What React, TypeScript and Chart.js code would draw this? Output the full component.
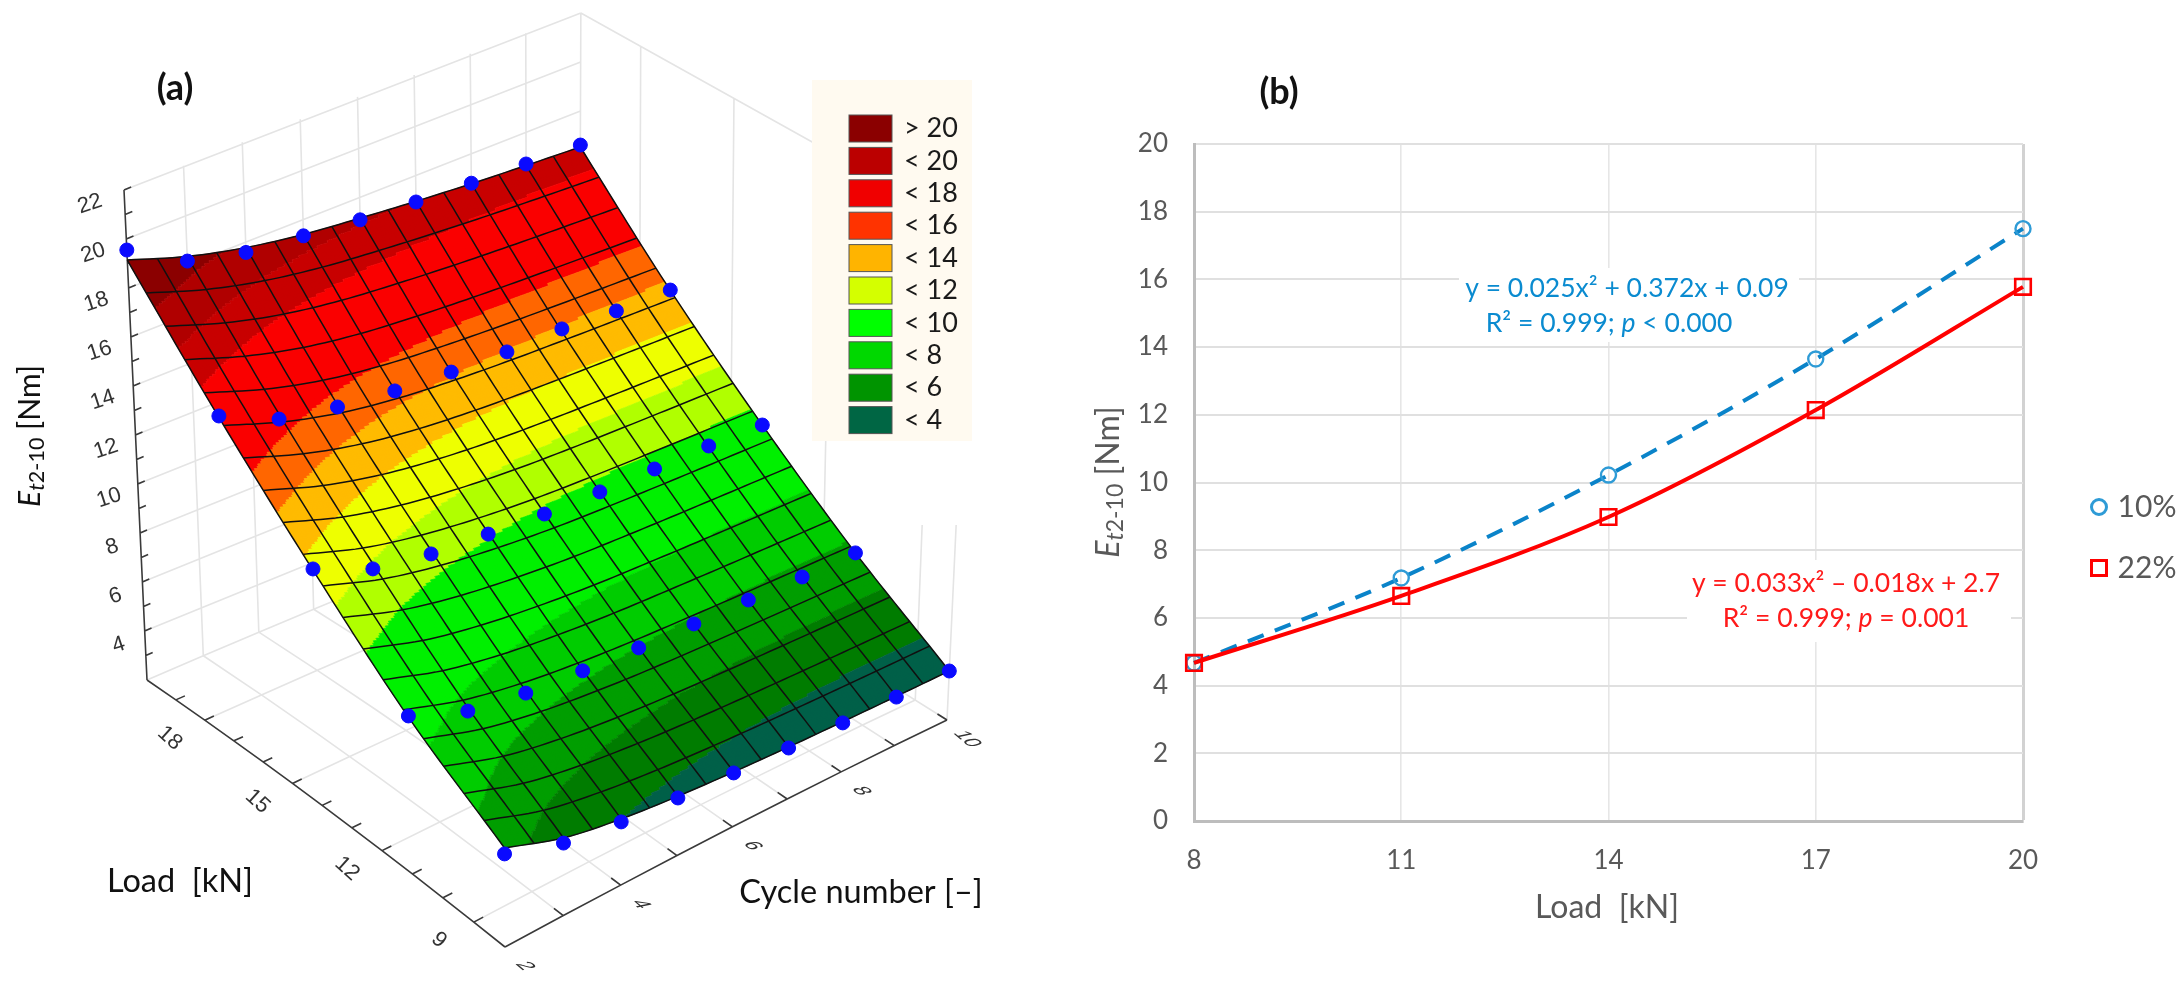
import React, { useEffect, useRef } from "react";
import { Chart, registerables } from "chart.js";

Chart.register(...registerables);

const cycles = [2, 3, 4, 5, 6, 7, 8, 9, 10];
const loads = [20, 17, 14, 11, 8];

const measuredLoad20 = [19.55, 18.11, 17.5, 17.24, 16.98, 16.82, 16.72, 16.66, 16.61];
const measuredLoad17 = [15.26, 14.08, 13.55, 13.21, 13.01, 12.89, 12.91, 12.75, 12.73];
const measuredLoad14 = [11.65, 10.53, 10.05, 9.8, 9.59, 9.49, 9.45, 9.44, 9.37];
const measuredLoad11 = [8.45, 7.45, 7.02, 6.8, 6.64, 6.55, 6.49, 6.42, 6.42];
const measuredLoad8 = [5.8, 4.96, 4.58, 4.35, 4.2, 4.08, 4.0, 3.98, 4.0];

const fittedLoad20 = [19.14, 18.3, 17.7, 17.3, 17.05, 16.85, 16.7, 16.6, 16.53];
const fittedLoad17 = [15.2, 14.3, 13.65, 13.25, 13.02, 12.88, 12.8, 12.75, 12.72];
const fittedLoad14 = [11.6, 10.75, 10.2, 9.85, 9.62, 9.5, 9.43, 9.39, 9.37];
const fittedLoad11 = [8.4, 7.6, 7.12, 6.83, 6.65, 6.55, 6.48, 6.44, 6.42];
const fittedLoad8 = [6.04, 5.17, 4.7, 4.42, 4.24, 4.12, 4.05, 4.01, 4.0];

const bandEdges = [17.9, 16.9, 15.94, 13.88, 12.92, 11.91, 10.79, 9.74, 7.83, 6.66, 5.66, 4.68];
const bandColors = ["#8b0000", "#b00000", "#c80000", "#fa0000", "#ff6600", "#ffbb00", "#eeff00", "#b0ff00", "#00f000", "#00cc00", "#009e00", "#007c00", "#006048"];

const legendLabels = ["> 20", "< 20", "< 18", "< 16", "< 14", "< 12", "< 10", "< 8", "< 6", "< 4"];
const legendColors = ["#8b0000", "#bb0000", "#f00000", "#ff3300", "#ffb400", "#d4ff00", "#00ff00", "#00d800", "#009400", "#006644"];

const zTicks = [22, 20, 18, 16, 14, 12, 10, 8, 6, 4];
const loadTicks = [18, 15, 12, 9];
const cycleTicks = [2, 4, 6, 8, 10];

const loadB = [8, 11, 14, 17, 20];
const series10 = [4.67, 7.18, 10.22, 13.65, 17.5];
const series22 = [4.67, 6.65, 8.98, 12.14, 15.78];

const FONT = "Lato, 'Open Sans', sans-serif";
const GREY = "#595959";

// 3D view: floor corners and vertical scale of the Statistica-like plot
const c00 = [147, 680], c10 = [505, 947], c11 = [947, 720], c01 = [579, 503];
const dx1 = c10[0] - c11[0], dx2 = c01[0] - c11[0], sx = c00[0] - c10[0] + c11[0] - c01[0];
const dy1 = c10[1] - c11[1], dy2 = c01[1] - c11[1], sy = c00[1] - c10[1] + c11[1] - c01[1];
const det = dx1 * dy2 - dx2 * dy1;
const hg = (sx * dy2 - dx2 * sy) / det;
const hh = (dx1 * sy - sx * dy1) / det;
const ha = c10[0] - c00[0] + hg * c10[0];
const hb = c01[0] - c00[0] + hh * c01[0];
const hd = c10[1] - c00[1] + hg * c10[1];
const he = c01[1] - c00[1] + hh * c01[1];

function projectUV(u: number, v: number, z: number) {
  const w = hg * u + hh * v + 1;
  const X0 = (ha * u + hb * v + c00[0]) / w + 28 * u * (1 - u) * (1 - (z - 2) / 24) - 26 * v * (1 - v);
  const Y0 = (hd * u + he * v + c00[1]) / w;
  const tilt = -1.15 + (2.3 * (X0 - 147)) / 800;
  return { x: X0 + tilt * (z - 2), y: Y0 - 24.5 * (z - 2) };
}
const toU = (load: number) => (20 - load) / 12;
const toV = (cycle: number) => (cycle - 2) / 8;
const project = (load: number, cycle: number, z: number) => projectUV(toU(load), toV(cycle), z);

function cr(a: number[], t: number) {
  const n = a.length - 1;
  const i = Math.min(Math.max(Math.floor(t), 0), n - 1);
  const f = t - i;
  const p1 = a[i], p2 = a[i + 1];
  const p0 = i > 0 ? a[i - 1] : 2 * p1 - p2;
  const p3 = i + 2 <= n ? a[i + 2] : 2 * p2 - p1;
  return 0.5 * (2 * p1 + (p2 - p0) * f + (2 * p0 - 5 * p1 + 4 * p2 - p3) * f * f + (3 * p1 - p0 - 3 * p2 + p3) * f * f * f);
}
const fittedRows = [fittedLoad20, fittedLoad17, fittedLoad14, fittedLoad11, fittedLoad8];
function surfaceZ(u: number, v: number) {
  const col = fittedRows.map((r) => cr(r, v * (cycles.length - 1)));
  return cr(col, u * (loads.length - 1));
}
const surfacePt = (u: number, v: number) => projectUV(u, v, surfaceZ(u, v));
const GAP = { x: NaN, y: NaN };

function buildWalls() {
  const d: any[] = [];
  const seg = (a: any, b: any) => d.push(a, b, GAP);
  for (let z = 4; z <= 22; z += 2) seg(project(20, 2, z), project(20, 10, z));
  for (let c = 3; c <= 10; c++) seg(project(20, c, 2), project(20, c, 22));
  for (const l of [18, 15, 12, 9, 8]) seg(project(l, 10, 2), project(l, 10, 22));
  seg(project(20, 10, 22), project(8, 10, 22));
  for (const l of [20, 18, 15, 12, 9]) {
    const line: any[] = [];
    for (let c = 2; c <= 10; c++) line.push(project(l, c, 2));
    d.push(...line, GAP);
  }
  for (let c = 3; c <= 10; c++) {
    const line: any[] = [];
    for (let l = 20; l >= 8; l -= 2) line.push(project(l, c, 2));
    d.push(...line, GAP);
  }
  return d;
}
function buildAxes() {
  const d: any[] = [];
  const seg = (a: any, b: any) => d.push(a, b, GAP);
  seg(project(20, 2, 2), project(20, 2, 22));
  for (let l = 20; l > 8; l -= 1) seg(project(l, 2, 2), project(l - 1, 2, 2));
  for (let c = 2; c < 10; c += 1) seg(project(8, c, 2), project(8, c + 1, 2));
  for (let z = 3; z <= 22; z++) seg(project(20, 2, z), project(20, 2.12, z));
  for (let l = 19; l >= 9; l--) seg(project(l, 2, 2), project(l, 2.16, 2));
  for (let c = 3; c <= 10; c++) seg(project(8, c, 2), project(8.3, c, 2));
  return d;
}
function buildMesh() {
  const d: any[] = [];
  const R = 19, C = 16;
  for (let i = 0; i <= R; i++) {
    for (let k = 0; k <= 64; k++) d.push(surfacePt(i / R, k / 64));
    d.push(GAP);
  }
  for (let j = 0; j <= C; j++) {
    for (let k = 0; k <= 76; k++) d.push(surfacePt(k / 76, j / C));
    d.push(GAP);
  }
  return d;
}
function buildDots() {
  const rows = [measuredLoad20, measuredLoad17, measuredLoad14, measuredLoad11, measuredLoad8];
  const d: any[] = [];
  rows.forEach((r, i) => r.forEach((e, j) => d.push(project(loads[i], cycles[j], e))));
  return d;
}
function bandIndex(z: number) {
  for (let i = 0; i < bandEdges.length; i++) if (z >= bandEdges[i]) return i;
  return bandEdges.length;
}

type Seg = { t: string; i?: boolean; b?: boolean; sub?: boolean };
function drawRich(ctx: CanvasRenderingContext2D, segs: Seg[], size: number, color: string, x: number, y: number, rot = 0) {
  const fontOf = (s: Seg) => `${s.i ? "italic " : ""}${s.b ? "bold " : ""}${s.sub ? size * 0.72 : size}px ${FONT}`;
  let w = 0;
  ctx.save();
  for (const s of segs) { ctx.font = fontOf(s); w += ctx.measureText(s.t).width; }
  ctx.translate(x, y);
  ctx.rotate(rot);
  ctx.fillStyle = color;
  ctx.textBaseline = "middle";
  ctx.textAlign = "left";
  let cx = -w / 2;
  for (const s of segs) {
    ctx.font = fontOf(s);
    ctx.fillText(s.t, cx, s.sub ? size * 0.22 : 0);
    cx += ctx.measureText(s.t).width;
  }
  ctx.restore();
}
function drawRot(ctx: CanvasRenderingContext2D, t: string, x: number, y: number, deg: number, font: string, color = "#222") {
  ctx.save();
  ctx.translate(x, y);
  ctx.rotate((deg * Math.PI) / 180);
  ctx.font = font;
  ctx.fillStyle = color;
  ctx.textAlign = "center";
  ctx.textBaseline = "middle";
  ctx.fillText(t, 0, 0);
  ctx.restore();
}
function drawSheared(ctx: CanvasRenderingContext2D, t: string, x: number, y: number, font: string, color: string) {
  ctx.save();
  ctx.translate(x, y);
  // glyph baseline runs down-right along the floor, glyph tops point to the right
  ctx.transform(0.72, 0.6, -0.95, 0.2, 0, 0);
  ctx.font = font;
  ctx.fillStyle = color;
  ctx.textAlign = "center";
  ctx.textBaseline = "middle";
  ctx.fillText(t, 0, 0);
  ctx.restore();
}

const surfacePlugin = {
  id: "surfacePlugin",
  beforeDatasetDraw(chart: any, args: any) {
    if (args.index !== 2) return;
    const { ctx, scales } = chart;
    const px = (p: any) => [scales.x.getPixelForValue(p.x), scales.y.getPixelForValue(p.y)];
    ctx.save();
    ctx.fillStyle = "#fff";
    ctx.fillRect(scales.x.getPixelForValue(905), scales.y.getPixelForValue(441), 60, 84);
    const NU = 285, NV = 240;
    const pts: number[][][] = [];
    for (let i = 0; i <= NU; i++) {
      const row: number[][] = [];
      for (let j = 0; j <= NV; j++) row.push(px(surfacePt(i / NU, j / NV)));
      pts.push(row);
    }
    const paths = bandColors.map(() => new Path2D());
    for (let i = 0; i < NU; i++) {
      for (let j = 0; j < NV; j++) {
        const z = surfaceZ((i + 0.5) / NU, (j + 0.5) / NV);
        const p = paths[bandIndex(z)];
        p.moveTo(pts[i][j][0], pts[i][j][1]);
        p.lineTo(pts[i + 1][j][0], pts[i + 1][j][1]);
        p.lineTo(pts[i + 1][j + 1][0], pts[i + 1][j + 1][1]);
        p.lineTo(pts[i][j + 1][0], pts[i][j + 1][1]);
        p.closePath();
      }
    }
    paths.forEach((p, k) => {
      ctx.fillStyle = bandColors[k];
      ctx.strokeStyle = bandColors[k];
      ctx.lineWidth = 0.6;
      ctx.fill(p);
      ctx.stroke(p);
    });
    ctx.restore();
  },
  afterDatasetsDraw(chart: any) {
    const { ctx } = chart;
    ctx.save();
    // legend
    ctx.fillStyle = "#fffaf0";
    ctx.fillRect(812, 80, 160, 361);
    legendLabels.forEach((t, i) => {
      const cy = 128.5 + i * 32.4;
      ctx.fillStyle = legendColors[i];
      ctx.fillRect(849, cy - 13.5, 43, 27);
      ctx.strokeStyle = "#555";
      ctx.lineWidth = 1;
      ctx.strokeRect(849, cy - 13.5, 43, 27);
      ctx.fillStyle = "#1a1a1a";
      ctx.font = `27px ${FONT}`;
      ctx.textAlign = "left";
      ctx.textBaseline = "middle";
      ctx.fillText(t, 904, cy);
    });
    // axis numbers
    const numFont = "22px 'Liberation Sans', Arial, sans-serif";
    zTicks.forEach((z) => {
      const p = project(20, 2, z);
      drawRot(ctx, String(z), p.x - 34 + (22 - z) * 0.44, p.y + 14, -18, numFont, "#333");
    });
    loadTicks.forEach((l) => {
      const p = project(l, 2, 2);
      drawRot(ctx, String(l), p.x - 35, p.y + 18, 42, numFont, "#333");
    });
    cycleTicks.forEach((c) => {
      const p = project(8, c, 2);
      drawSheared(ctx, String(c), p.x + 20, p.y + 19, numFont, "#333");
    });
    drawRich(ctx, [{ t: "(a)", b: true }], 36, "#111", 175, 88);
    drawRich(ctx, [{ t: "Load  [kN]" }], 32.5, "#111", 180, 882);
    drawRich(ctx, [{ t: "Cycle number [–]" }], 32.5, "#111", 861, 893);
    drawRich(ctx, [{ t: "E", i: true }, { t: "t", i: true, sub: true }, { t: "2-10", sub: true }, { t: " [Nm]" }], 30, "#111", 30, 436, -Math.PI / 2);
    ctx.restore();
  },
};

const notesPlugin = {
  id: "notesPlugin",
  beforeDatasetsDraw(chart: any) {
    const { ctx } = chart;
    ctx.save();
    ctx.fillStyle = "#fff";
    ctx.fillRect(1459 - OX, 268, 340, 74);
    ctx.fillRect(1687 - OX, 560, 324, 82);
    ctx.restore();
  },
  afterDatasetsDraw(chart: any) {
    const { ctx } = chart;
    ctx.save();
    const blue = "#0a8bd0", red = "#ff1a1a";
    drawRich(ctx, [{ t: "y = 0.025x² + 0.372x + 0.09" }], 26.5, blue, 1627 - OX, 288);
    drawRich(ctx, [{ t: "R² = 0.999; " }, { t: "p", i: true }, { t: " < 0.000" }], 26.5, blue, 1609 - OX, 323);
    drawRich(ctx, [{ t: "y = 0.033x² – 0.018x + 2.7" }], 26.5, red, 1846 - OX, 583);
    drawRich(ctx, [{ t: "R² = 0.999; " }, { t: "p", i: true }, { t: " = 0.001" }], 26.5, red, 1846 - OX, 618);
    drawRich(ctx, [{ t: "(b)", b: true }], 36, "#111", 1279 - OX, 92);
    drawRich(ctx, [{ t: "Load  [kN]" }], 32, GREY, 1607 - OX, 908);
    drawRich(ctx, [{ t: "E", i: true }, { t: "t", i: true, sub: true }, { t: "2-10", sub: true }, { t: " [Nm]" }], 32, GREY, 1109 - OX, 482, -Math.PI / 2);
    // legend
    ctx.lineWidth = 3;
    ctx.strokeStyle = "#2e9bd6";
    ctx.beginPath();
    ctx.arc(2099 - OX, 507, 7.5, 0, Math.PI * 2);
    ctx.stroke();
    ctx.strokeStyle = "#ff0000";
    ctx.strokeRect(2099 - OX - 7.5, 568 - 7.5, 15, 15);
    drawRich(ctx, [{ t: "10%" }], 30, GREY, 2147 - OX, 507);
    drawRich(ctx, [{ t: "22%" }], 30, GREY, 2147 - OX, 568);
    ctx.restore();
  },
};

const OX = 1060;

export default function App() {
  const leftRef = useRef<HTMLCanvasElement>(null);
  const rightRef = useRef<HTMLCanvasElement>(null);

  useEffect(() => {
    const hiddenScale = (min: number, max: number, reverse = false) => ({ type: "linear" as const, display: false, min, max, reverse });
    const left = new Chart(leftRef.current!, {
      type: "scatter",
      plugins: [surfacePlugin],
      data: {
        datasets: [
          { label: "walls", data: buildWalls(), showLine: true, borderColor: "#e4e4e4", borderWidth: 1.6, pointRadius: 0, order: 4 },
          { label: "axes", data: buildAxes(), showLine: true, borderColor: "#3a3a3a", borderWidth: 1.6, pointRadius: 0, order: 3 },
          { label: "surface mesh", data: buildMesh(), showLine: true, borderColor: "#101010", borderWidth: 1.5, pointRadius: 0, order: 2 },
          { label: "measured", data: buildDots(), showLine: false, backgroundColor: "#0a0aff", borderColor: "#0a0aff", pointRadius: 7, order: 1 },
        ],
      },
      options: {
        animation: false,
        responsive: false,
        devicePixelRatio: 1,
        layout: { padding: 0, autoPadding: false },
        plugins: { legend: { display: false }, tooltip: { enabled: false } },
        scales: { x: hiddenScale(0, OX), y: hiddenScale(0, 990, true) },
      } as any,
    });

    const right = new Chart(rightRef.current!, {
      type: "scatter",
      plugins: [notesPlugin],
      data: {
        datasets: [
          {
            label: "22%",
            data: loadB.map((x, i) => ({ x, y: series22[i] })),
            showLine: true,
            clip: false,
            borderColor: "#ff0000",
            borderWidth: 4,
            cubicInterpolationMode: "monotone",
            pointStyle: "rect",
            pointRadius: 11,
            pointBorderWidth: 2.6,
            pointBorderColor: "#ff0000",
            pointBackgroundColor: "transparent",
            order: 1,
          },
          {
            label: "10%",
            data: loadB.map((x, i) => ({ x, y: series10[i] })),
            showLine: true,
            clip: false,
            borderColor: "#0a83c9",
            borderWidth: 4,
            borderDash: [17, 12],
            cubicInterpolationMode: "monotone",
            pointStyle: "circle",
            pointRadius: 7.5,
            pointBorderWidth: 2.4,
            pointBorderColor: "#2e9bd6",
            pointBackgroundColor: "transparent",
            order: 2,
          },
        ],
      },
      options: {
        animation: false,
        responsive: false,
        devicePixelRatio: 1,
        layout: { padding: { left: 74, right: 161, top: 144, bottom: 109 }, autoPadding: false },
        plugins: { legend: { display: false }, tooltip: { enabled: false } },
        scales: {
          x: {
            type: "linear",
            min: 8,
            max: 20,
            afterFit: (s: any) => { s.height = 60; },
            afterBuildTicks: (s: any) => { s.ticks = loadB.map((value) => ({ value })); },
            grid: {
              color: (c: any) => (c.tick && c.tick.value === 20 ? "#d2d2d2" : "#e6e6e6"),
              lineWidth: (c: any) => (c.tick && c.tick.value === 20 ? 3 : 1.6),
              drawTicks: false,
            },
            border: { color: "#bdbdbd", width: 3 },
            ticks: { color: GREY, padding: 24, font: { family: FONT, size: 26 }, maxRotation: 0 },
          },
          y: {
            type: "linear",
            min: 0,
            max: 20,
            afterFit: (s: any) => { s.width = 60; },
            grid: { color: "#e0e0e0", lineWidth: 2, drawTicks: false },
            border: { color: "#bdbdbd", width: 3 },
            ticks: { stepSize: 2, color: GREY, padding: 26, font: { family: FONT, size: 26 } },
          },
        },
      } as any,
    });

    return () => {
      left.destroy();
      right.destroy();
    };
  }, []);

  return (
    <div style={{ position: "absolute", left: 0, top: 0, width: 2184, height: 990, overflow: "hidden", background: "#fff" }}>
      <canvas ref={leftRef} width={OX} height={990} style={{ position: "absolute", left: 0, top: 0, width: OX, height: 990 }} />
      <canvas ref={rightRef} width={2184 - OX} height={990} style={{ position: "absolute", left: OX, top: 0, width: 2184 - OX, height: 990 }} />
    </div>
  );
}
